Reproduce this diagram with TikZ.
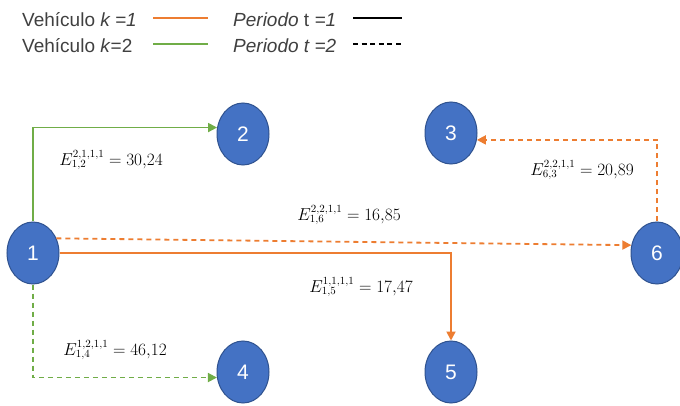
\documentclass[tikz,border=0pt]{standalone}
\usepackage{fontspec}
\setmainfont{Liberation Sans}
\usetikzlibrary{arrows.meta,shapes.geometric}
\definecolor{cblue}{HTML}{4472C4}
\definecolor{cborder}{HTML}{2F528F}
\definecolor{corange}{HTML}{ED7D31}
\definecolor{cgreen}{HTML}{70AD47}
\definecolor{ctext}{HTML}{404040}
\begin{document}
\begin{tikzpicture}[x=1pt,y=-1pt,
  vnode/.style={ellipse,draw=cborder,line width=1pt,fill=cblue,minimum width=52pt,minimum height=62pt,inner sep=0pt,text=white,font=\fontsize{21}{23}\selectfont},
  legtext/.style={anchor=west,text=ctext,font=\fontsize{19}{21}\selectfont,inner sep=0pt},
  eqlabel/.style={font=\fontsize{16}{18}\selectfont,inner sep=0pt},
  tip/.style={-{Triangle[length=9pt,width=9pt]}},
  conn/.style={line width=1.8pt},
  dsh/.style={dash pattern=on 5pt off 4pt}
]
\useasboundingbox[fill=white] (0,0) rectangle (680,406);
% legend
\node[legtext] (l1) at (22,20) {Vehículo \textit{k =1}};
\node[legtext] (l2) at (22,46) {Vehículo \textit{k}=2};
\node[legtext] (l3) at (233,20) {\textit{Periodo} t \textit{=1}};
\node[legtext] (l4) at (233,46) {\textit{Periodo t =2}};
\coordinate (a1) at (153,18); \coordinate (b1) at (208,18);
\coordinate (a2) at (153,44); \coordinate (b2) at (208,44);
\coordinate (a3) at (353,18); \coordinate (b3) at (402,18);
\coordinate (a4) at (353,44); \coordinate (b4) at (402,44);
\draw[corange,line width=1.3pt] (a1) -- (b1);
\draw[cgreen,line width=1.3pt] (a2) -- (b2);
\draw[black,line width=1.3pt] (a3) -- (b3);
\draw[black,line width=1.2pt,dash pattern=on 5pt off 3.6pt] (a4) -- (b4);
% nodes
\node[vnode] (n1) at (33,253) {1};
\node[vnode] (n2) at (243,134) {2};
\node[vnode] (n3) at (451,133) {3};
\node[vnode] (n4) at (243,372) {4};
\node[vnode] (n5) at (451,372) {5};
\node[vnode] (n6) at (657,253) {6};
% connectors
\draw[conn,cgreen,tip] (n1.north) |- (n2.166);
\draw[conn,cgreen,dsh,tip] (n1.south) |- (n4.192);
\draw[conn,corange,tip] (n1.east) -| (n5.north);
\draw[conn,corange,dsh,tip] (n1.32) -- (n6.163);
\draw[conn,corange,dsh,tip] (n6.north) |- (n3.-15);
% labels
\node[eqlabel] (e12) at (111,160) {$E^{2,1,1,1}_{1,2} = 30{,}24$};
\node[eqlabel] (e16) at (349,215) {$E^{2,2,1,1}_{1,6} = 16{,}85$};
\node[eqlabel] (e15) at (361,287) {$E^{1,1,1,1}_{1,5} = 17{,}47$};
\node[eqlabel] (e14) at (115,350) {$E^{1,2,1,1}_{1,4} = 46{,}12$};
\node[eqlabel] (e63) at (582,170) {$E^{2,2,1,1}_{6,3} = 20{,}89$};
\end{tikzpicture}
\end{document}
